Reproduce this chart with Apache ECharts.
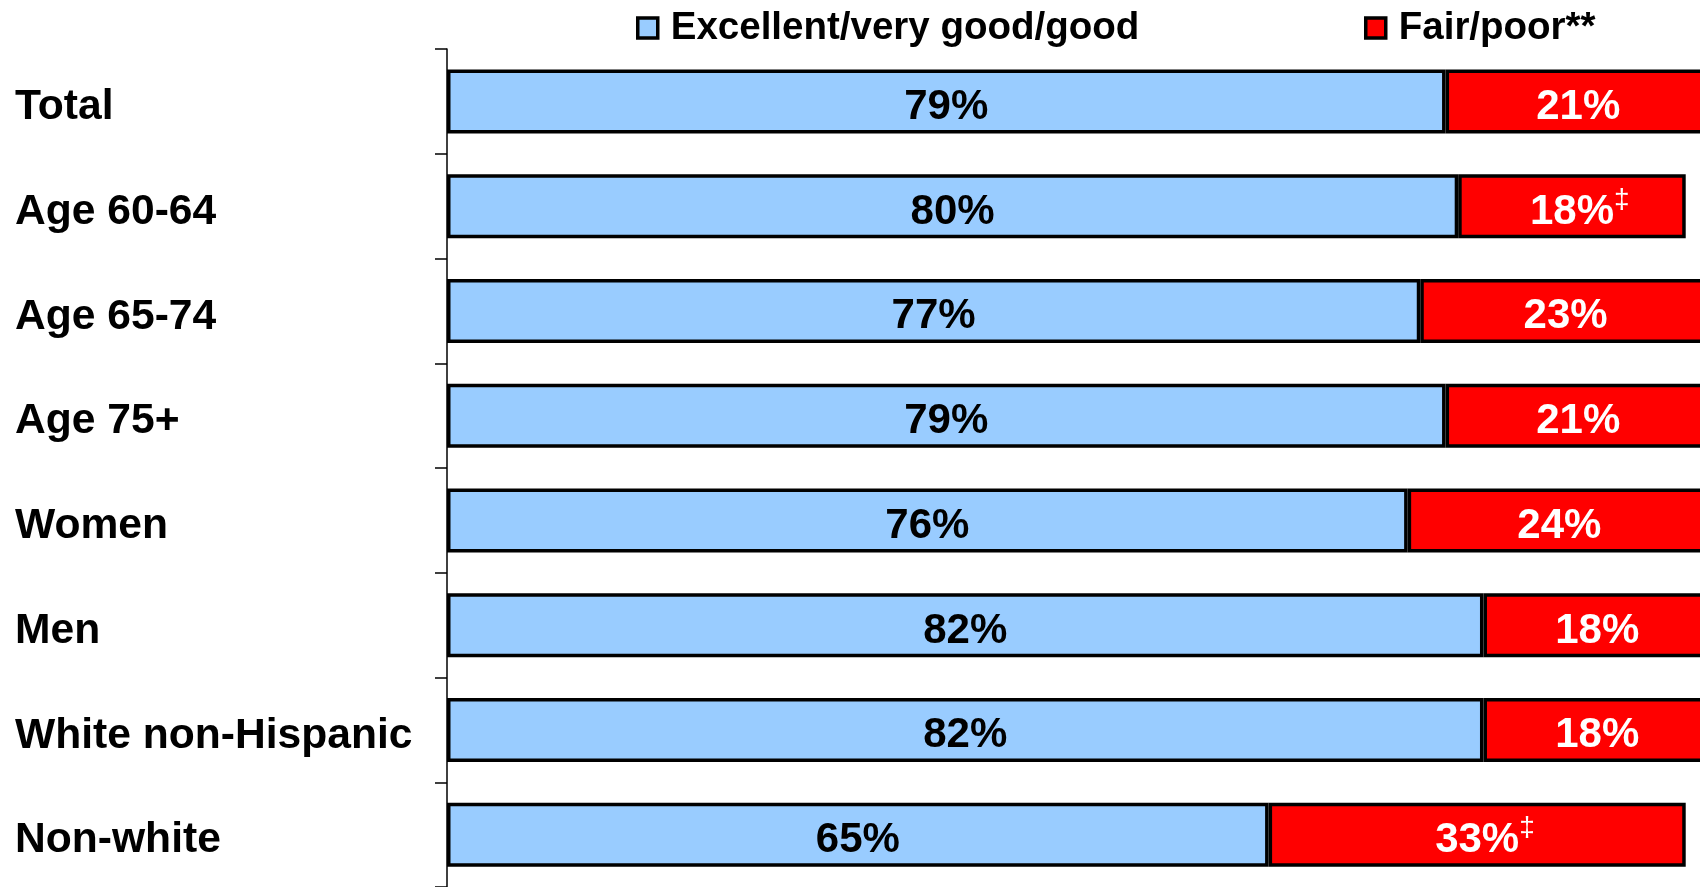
<!DOCTYPE html>
<html>
<head>
<meta charset="utf-8">
<title>Self-rated health</title>
<script src="https://cdn.jsdelivr.net/npm/echarts@6/dist/echarts.min.js"></script>
<style>
  html, body { margin: 0; padding: 0; background: #fff; }
  #chart { width: 1700px; height: 887px; }
</style>
</head>
<body>
<div id="chart"></div>
<script>
// Groups shown on the vertical axis, top to bottom
const categories = ['Total', 'Age 60-64', 'Age 65-74', 'Age 75+', 'Women', 'Men', 'White non-Hispanic', 'Non-white'];
// Share rating their health excellent / very good / good (%)
const goodValues = [79, 80, 77, 79, 76, 82, 82, 65];
// Share rating their health fair / poor (%)
const fairValues = [21, 18, 23, 21, 24, 18, 18, 33];
// Footnote marks attached to the fair/poor values
const fairMarks = ['', '‡', '', '', '', '', '', '‡'];
const seriesNames = ['Excellent/very good/good', 'Fair/poor**'];

const FONT = '"Liberation Sans", Arial, sans-serif';
const BLUE = '#99CCFF';
const RED = '#FF0000';

const chart = echarts.init(document.getElementById('chart'), null, { renderer: 'canvas' });

// Rich styles for the fair/poor labels: value plus a raised footnote mark.
// An invisible copy of the mark on the left keeps the number centred in its bar.
const valueRich = {
  v: { fontSize: 42, fontWeight: 'bold', fontFamily: FONT, lineHeight: 52, color: '#fff' },
  sup: { fontSize: 28, fontWeight: 'normal', fontFamily: FONT, lineHeight: 16, verticalAlign: 'top', color: '#fff' },
  pad: { fontSize: 28, fontWeight: 'normal', fontFamily: FONT, lineHeight: 16, verticalAlign: 'top', color: 'transparent' }
};

const legendBase = {
  orient: 'horizontal',
  top: 8,
  padding: 0,
  itemWidth: 20,
  itemHeight: 20,
  icon: 'rect',
  selectedMode: false,
  itemStyle: { borderColor: '#000', borderWidth: 3.5 },
  textStyle: {
    fontSize: 38.5,
    fontWeight: 'bold',
    fontFamily: FONT,
    color: '#000',
    lineHeight: 40,
    padding: [0, 0, 0, 8]
  }
};

chart.setOption({
  animation: false,
  backgroundColor: '#fff',
  legend: [
    Object.assign({}, legendBase, { left: 636, data: [seriesNames[0]] }),
    Object.assign({}, legendBase, { left: 1364, data: [seriesNames[1]] })
  ],
  grid: {
    left: 447,
    top: 49,
    width: 1264,
    height: 838,
    containLabel: false,
    outerBoundsMode: 'none'
  },
  xAxis: {
    type: 'value',
    min: 0,
    max: 100,
    show: false
  },
  yAxis: {
    type: 'category',
    data: categories,
    inverse: true,
    axisLine: { show: true, lineStyle: { color: '#000', width: 1.5 } },
    axisTick: { show: true, length: 12, lineStyle: { color: '#000', width: 1.5 } },
    axisLabel: {
      align: 'left',
      verticalAlign: 'top',
      lineHeight: 12,
      margin: 432,
      fontSize: 42.6,
      fontWeight: 'bold',
      fontFamily: FONT,
      color: '#000'
    }
  },
  series: [
    {
      name: seriesNames[0],
      type: 'bar',
      stack: 'health',
      barWidth: 64,
      clip: false,
      data: goodValues,
      itemStyle: { color: BLUE, borderColor: '#000', borderWidth: 3.5 },
      label: {
        show: true,
        position: 'inside',
        offset: [0, 6],
        formatter: p => p.value + '%',
        fontSize: 42,
        fontWeight: 'bold',
        fontFamily: FONT,
        color: '#000'
      }
    },
    {
      name: seriesNames[1],
      type: 'bar',
      stack: 'health',
      barWidth: 64,
      clip: false,
      data: fairValues,
      itemStyle: { color: RED, borderColor: '#000', borderWidth: 3.5 },
      label: {
        show: true,
        position: 'inside',
        offset: [0, 6],
        formatter: p => {
          const mark = fairMarks[p.dataIndex];
          return mark ? '{pad|' + mark + '}{v|' + p.value + '%}{sup|' + mark + '}' : '{v|' + p.value + '%}';
        },
        rich: valueRich,
        fontSize: 42,
        fontWeight: 'bold',
        fontFamily: FONT,
        color: '#fff'
      }
    }
  ]
});
</script>
</body>
</html>
